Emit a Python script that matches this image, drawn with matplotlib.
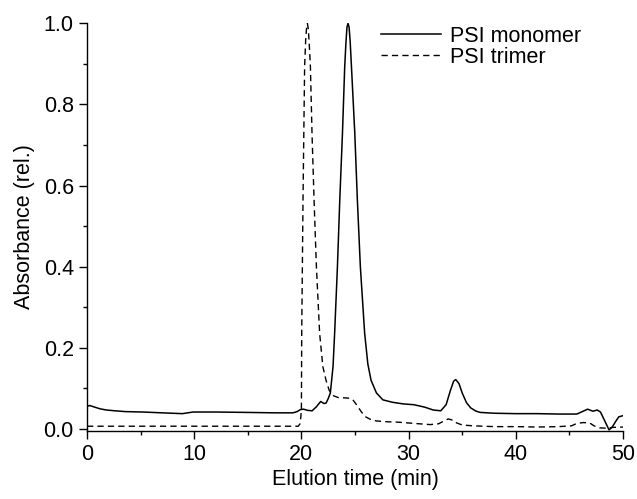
import matplotlib
matplotlib.use("Agg")
import matplotlib.pyplot as plt
from matplotlib.ticker import MultipleLocator

plt.rcParams["font.family"] = ["Liberation Sans", "DejaVu Sans"]

# PSI monomer (solid) - elution time (min), relative absorbance
monomer_t = [0.0, 0.25, 0.6, 1.2, 1.8, 2.6, 3.6, 5.2, 7.0, 8.9, 9.9, 12.0, 15.0, 17.5,
             19.2, 19.6, 19.9, 20.2, 20.6, 21.0, 21.4, 21.8, 22.1, 22.3, 22.5, 22.7,
             22.95, 23.1, 23.36, 23.58, 23.83, 24.04, 24.15, 24.25, 24.35, 24.45, 24.55,
             24.67, 24.98, 25.22, 25.5, 25.9, 26.2, 26.5, 27.0, 27.6, 28.5, 29.5, 30.5,
             31.5, 32.3, 33.0, 33.5, 33.9, 34.2, 34.4, 34.7, 35.0, 35.4, 35.8, 36.3, 36.7,
             38.0, 40.0, 42.0, 44.0, 45.7, 46.2, 46.7, 47.0, 47.2, 47.6, 47.9, 48.3, 48.7,
             49.0, 49.3, 49.6, 50.0]
monomer_a = [0.056, 0.058, 0.055, 0.050, 0.047, 0.045, 0.043, 0.042, 0.040, 0.038, 0.042,
             0.042, 0.041, 0.040, 0.040, 0.043, 0.048, 0.049, 0.046, 0.045, 0.055, 0.068,
             0.063, 0.064, 0.075, 0.089, 0.154, 0.236, 0.400, 0.565, 0.729, 0.893, 0.950,
             0.990, 1.000, 0.990, 0.955, 0.893, 0.729, 0.565, 0.400, 0.236, 0.160, 0.120,
             0.089, 0.072, 0.066, 0.062, 0.060, 0.054, 0.047, 0.045, 0.060, 0.095, 0.118,
             0.122, 0.112, 0.089, 0.065, 0.052, 0.044, 0.041, 0.039, 0.038, 0.038, 0.037,
             0.037, 0.043, 0.049, 0.046, 0.044, 0.047, 0.042, 0.020, -0.002, 0.005, 0.018,
             0.030, 0.033]

# PSI trimer (dashed)
trimer_t = [0.0, 10.0, 19.7, 19.85, 19.95, 20.0, 20.03, 20.15, 20.3, 20.4, 20.5, 20.56,
            20.65, 20.75, 20.84, 20.99, 21.18, 21.4, 21.7, 22.0, 22.3, 22.6, 23.0, 23.5,
            24.0, 24.5, 24.8, 25.2, 25.6, 26.0, 26.5, 27.0, 28.0, 29.0, 30.0, 31.0, 32.0,
            32.8, 33.3, 33.7, 34.1, 34.5, 35.0, 36.0, 38.0, 40.0, 42.0, 44.0, 45.2, 45.7,
            46.3, 46.9, 47.3, 47.8, 48.5, 49.0, 50.0]
trimer_a = [0.007, 0.007, 0.007, 0.012, 0.030, 0.050, 0.236, 0.565, 0.893, 0.960, 0.995,
            1.000, 0.985, 0.940, 0.893, 0.729, 0.565, 0.400, 0.236, 0.154, 0.120, 0.095,
            0.082, 0.077, 0.077, 0.076, 0.072, 0.058, 0.042, 0.030, 0.023, 0.020, 0.018,
            0.017, 0.015, 0.013, 0.011, 0.013, 0.020, 0.025, 0.022, 0.015, 0.010, 0.008,
            0.006, 0.006, 0.005, 0.006, 0.008, 0.014, 0.016, 0.015, 0.008, 0.003, 0.002,
            0.004, 0.005]

fig = plt.figure(figsize=(6.37, 4.99), dpi=100)
ax = fig.add_axes([0.1366, 0.1369, 0.8414, 0.8164])

ax.plot(monomer_t, monomer_a, color="black", lw=1.1, label="PSI monomer")
line, = ax.plot(trimer_t, trimer_a, color="black", lw=1.0, label="PSI trimer")
line.set_dashes((4.5, 3))

ax.set_xlim(0, 50)
ax.set_ylim(-0.004, 1.0)
ax.xaxis.set_major_locator(MultipleLocator(10))
ax.xaxis.set_minor_locator(MultipleLocator(5))
ax.yaxis.set_major_locator(MultipleLocator(0.2))
ax.yaxis.set_minor_locator(MultipleLocator(0.1))
ax.yaxis.set_major_formatter(plt.FormatStrFormatter("%.1f"))

for s in ["top", "right"]:
    ax.spines[s].set_visible(False)
for s in ["left", "bottom"]:
    ax.spines[s].set_linewidth(1.0)

ax.tick_params(which="major", direction="out", length=6, width=1.0, labelsize=15.5,
               pad=3.5)
ax.tick_params(which="minor", direction="out", length=3, width=1.0)

ax.set_xlabel("Elution time (min)", fontsize=15.5, labelpad=3)
ax.set_ylabel("Absorbance (rel.)", fontsize=15.5, labelpad=6)

ax.legend(loc="upper left", bbox_to_anchor=(381 / 637, 1 - 26 / 499),
          bbox_transform=fig.transFigure, frameon=False, fontsize=15.5,
          handlelength=2.8, handletextpad=0.4, labelspacing=0.0, borderpad=0,
          borderaxespad=0)

fig.savefig("out.png", dpi=100)
